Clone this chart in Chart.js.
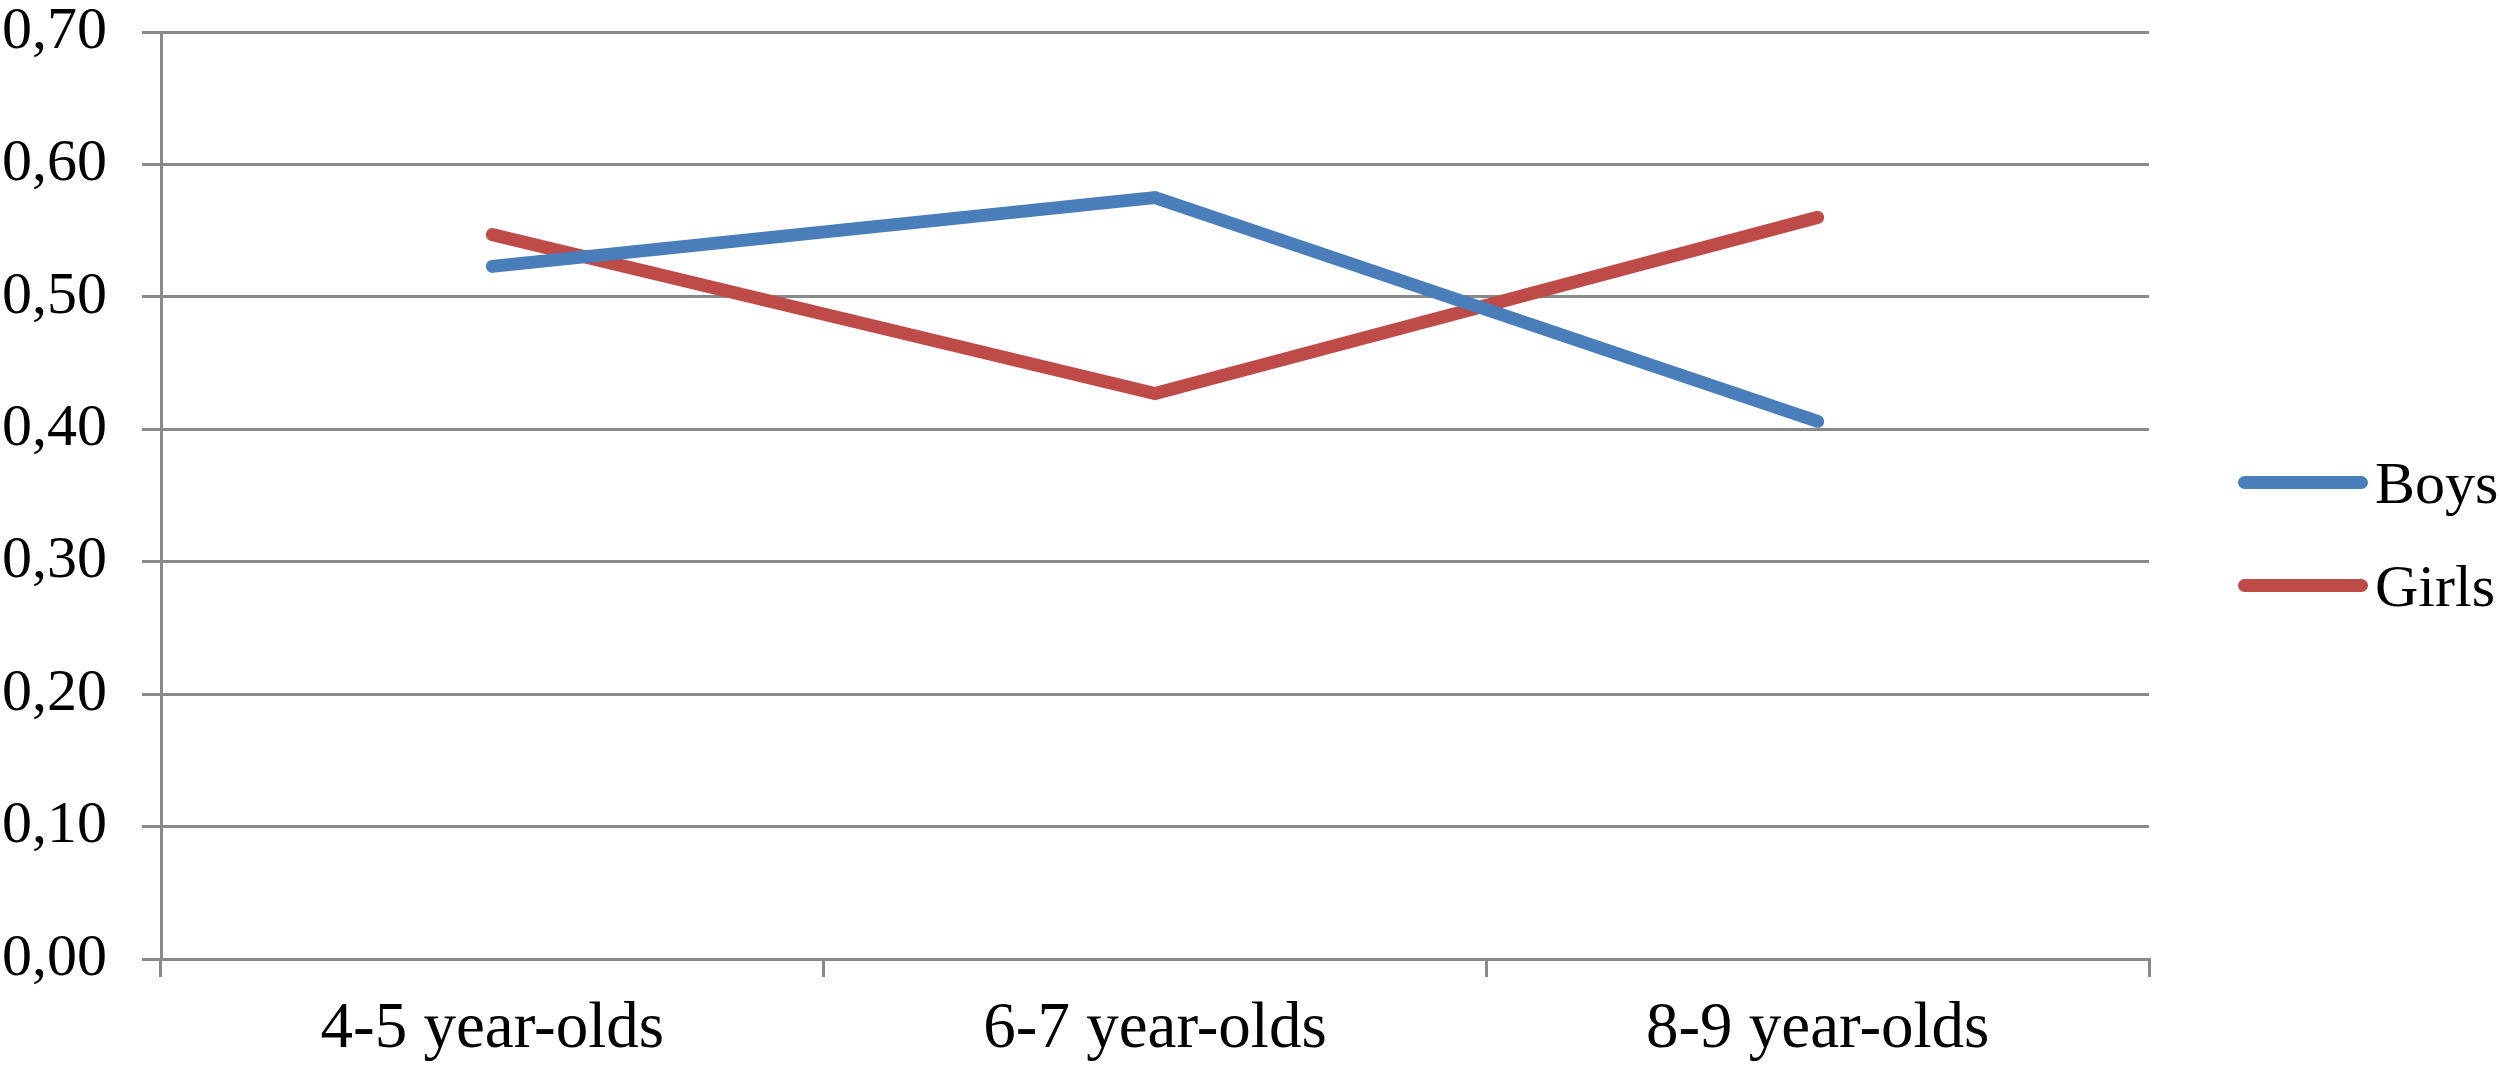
<!DOCTYPE html>
<html>
<head>
<meta charset="utf-8">
<script src="https://cdn.jsdelivr.net/npm/chart.js@4.4.0/dist/chart.umd.min.js"></script>
<style>
  html, body { margin: 0; padding: 0; background: #fff; }
  #wrap { position: relative; width: 2500px; height: 1071px; overflow: hidden; }
  #chart { display: block; }
  .lg-line { position: absolute; width: 130px; height: 13px; border-radius: 6.5px; }
  .lg-text { position: absolute; font-family: 'Liberation Serif', 'Times New Roman', serif; font-size: 60px; line-height: 60px; color: #000; white-space: nowrap; }
</style>
</head>
<body>
<div id="wrap">
  <canvas id="chart" width="2500" height="1071"></canvas>
  <div id="legend"></div>
</div>
<script>
const categories = ['4-5 year-olds', '6-7 year-olds', '8-9 year-olds'];
const seriesNames = ['Boys', 'Girls'];
const boysValues = [0.523, 0.575, 0.406];
const girlsValues = [0.547, 0.427, 0.560];
const yMin = 0;
const yMax = 0.7;
const yStep = 0.1;

const BLUE = '#4a7ebb';
const RED = '#be4b48';
const GRID = '#898989';
const FONT = "'Liberation Serif', 'Times New Roman', serif";

function formatTick(v) {
  return Number(v).toFixed(2).replace('.', ',');
}

// legend drawn as html next to the plot, built from the datasets
const htmlLegend = {
  id: 'htmlLegend',
  afterRender(chart) {
    const box = document.getElementById('legend');
    if (box.childElementCount) return;
    const left = chart.chartArea.right + 89;
    const firstY = 482;
    const gap = 103;
    chart.data.datasets.forEach((ds, i) => {
      const y = firstY + i * gap;
      const line = document.createElement('div');
      line.className = 'lg-line';
      line.style.left = left + 'px';
      line.style.top = (y - 6.5) + 'px';
      line.style.background = ds.borderColor;
      const txt = document.createElement('div');
      txt.className = 'lg-text';
      txt.style.left = (left + 137) + 'px';
      txt.style.top = (y - 29.5) + 'px';
      txt.textContent = ds.label;
      box.appendChild(line);
      box.appendChild(txt);
    });
  }
};

const ctx = document.getElementById('chart').getContext('2d');
new Chart(ctx, {
  type: 'line',
  data: {
    labels: categories,
    datasets: [
      {
        label: seriesNames[0],
        data: boysValues,
        borderColor: BLUE,
        backgroundColor: BLUE,
        borderWidth: 13,
        borderCapStyle: 'round',
        pointRadius: 0,
        tension: 0
      },
      {
        label: seriesNames[1],
        data: girlsValues,
        borderColor: RED,
        backgroundColor: RED,
        borderWidth: 13,
        borderCapStyle: 'round',
        pointRadius: 0,
        tension: 0
      }
    ]
  },
  options: {
    responsive: false,
    devicePixelRatio: 1,
    animation: false,
    layout: { padding: { top: 32, right: 351, bottom: 0, left: 2 } },
    plugins: {
      legend: { display: false },
      tooltip: { enabled: false }
    },
    scales: {
      x: {
        type: 'category',
        offset: true,
        grid: { offset: true, drawOnChartArea: false, drawTicks: true, tickLength: 18, color: GRID, lineWidth: 3 },
        border: { color: GRID, width: 3 },
        ticks: { color: '#000', padding: 20, maxRotation: 0, font: { family: FONT, size: 65, lineHeight: 1 } },
        afterFit: s => { s.height = 112; }
      },
      y: {
        min: yMin,
        max: yMax,
        grid: { color: GRID, lineWidth: 3, tickLength: 19, drawTicks: true },
        border: { color: GRID, width: 3 },
        ticks: {
          stepSize: yStep,
          color: '#000',
          padding: 35,
          font: { family: FONT, size: 60, lineHeight: 1 },
          callback: v => formatTick(v)
        },
        afterFit: s => {
          s.width = 159;
          s.paddingTop = 30;
          s.paddingBottom = 30;
        }
      }
    }
  },
  plugins: [htmlLegend]
});
</script>
</body>
</html>
